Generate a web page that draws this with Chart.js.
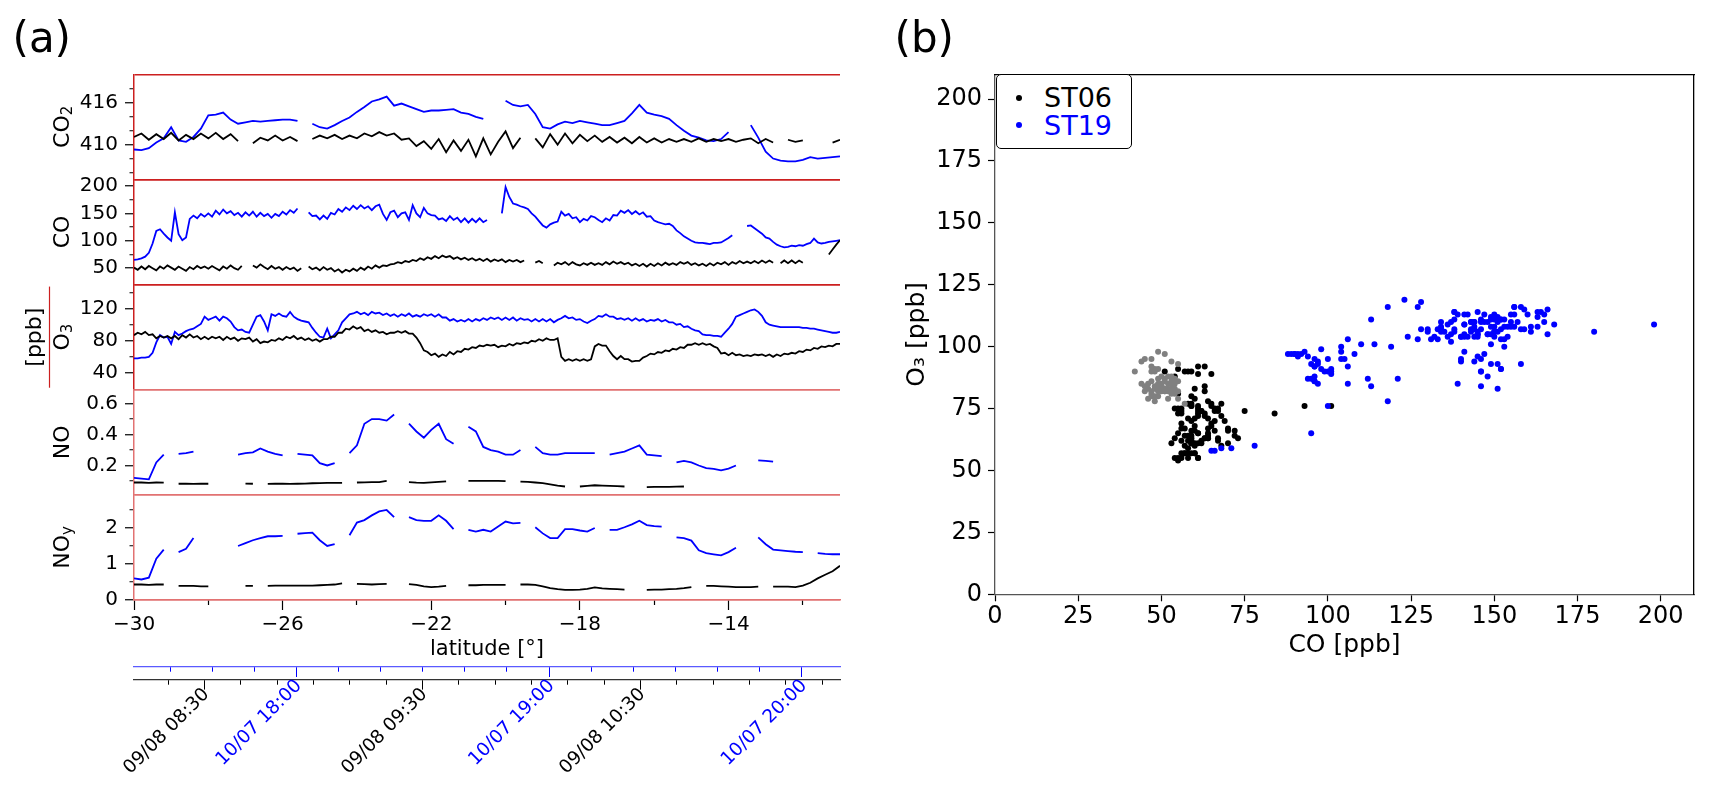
<!DOCTYPE html>
<html>
<head>
<meta charset="utf-8">
<title>ST06 / ST19 trace gases</title>
<script src="https://cdn.jsdelivr.net/npm/chart.js"></script>
<style>
  body { margin: 0; background: #fff; }
  #page { position: relative; width: 1713px; height: 785px; font-family: 'DejaVu Sans', sans-serif; color: #000; }
  #page canvas { position: absolute; top: 0; }
  .tag { position: absolute; top: 17px; font-size: 42px; line-height: 42px; }
  #legendB { position: absolute; left: 996px; top: 74px; width: 136px; height: 75px; box-sizing: border-box;
             border: 1.3px solid #000; border-radius: 5px; background: #fff; font-size: 27px; line-height: 27px; }
  #legendB .row { position: absolute; left: 0; width: 100%; height: 27px; }
  #legendB .dot { position: absolute; left: 18.7px; top: 10.5px; width: 6px; height: 6px; border-radius: 50%; }
  #legendB .txt { position: absolute; left: 47px; top: 0; white-space: nowrap; }
</style>
</head>
<body>
<div id="page">
  <canvas id="chartA" width="860" height="785" style="left:0;width:860px;height:785px"></canvas>
  <canvas id="chartB" width="853" height="785" style="left:860px;width:853px;height:785px"></canvas>
  <div class="tag" style="left:12.5px">(a)</div>
  <div class="tag" style="left:894.5px">(b)</div>
  <div id="legendB">
    <div class="row" style="top:9.2px"><span class="dot" style="background:#000"></span><span class="txt">ST06</span></div>
    <div class="row" style="top:36.5px"><span class="dot" style="background:#0000ff"></span><span class="txt" style="color:#0000ff">ST19</span></div>
  </div>
</div>
<script>
// sampling grids along the flight track (latitude, deg)
const latFine = [];   // every 0.1 deg: CO and O3
for (let i = 0; i <= 190; i++) latFine.push((-300 + i) / 10);
const latCoarse = []; // every 0.2 deg: CO2, NO, NOy
for (let i = 0; i <= 95; i++) latCoarse.push((-150 + i) / 5);

// CO2 [ppm], 0.2 deg
const co2ST19 = [409.3, 409.2, 409.5, 410.3, 410.9, 412.5, 410.6, 410.4, 411.1, 412.3,
  414.2, 414.3, 414.6, 413.6, 413.0, 413.2, 413.4, 413.3, 413.4, 413.5,
  413.6, 413.6, 413.4, null, 413.0, 412.5, 412.3, 412.8, 413.4, 413.9,
  414.7, 415.4, 416.2, 416.5, 416.9, 415.6, 415.9, 415.5, 415.1, 414.7,
  414.9, 414.9, 415.0, 415.1, 414.6, 414.4, 414.0, 413.7, null, null,
  416.3, 415.7, 415.5, 415.7, 414.4, 412.5, 412.3, 412.9, 413.3, 413.1,
  413.4, 413.2, 413.0, 412.8, 412.8, 413.1, 413.4, 414.5, 415.7, 414.6,
  414.3, 414.1, 413.7, 412.8, 412.0, 411.3, 411.0, 410.6, 410.5, 410.8,
  411.8, null, null, 412.8, 411.0, 409.0, 408.0, 407.7, 407.6, 407.6,
  407.8, 408.2, 408.0, 408.1, 408.2, 408.3];
const co2ST06 = [411.1, 411.6, 410.7, 411.5, 410.8, 411.7, 410.6, 411.4, 410.8, 411.6,
  410.9, 411.7, 410.8, 411.5, 410.5, null, 410.2, 411.0, 410.6, 411.3,
  410.6, 411.1, 410.5, null, 410.8, 411.3, 410.9, 411.4, 410.8, 411.3,
  410.9, 411.6, 411.2, 411.8, 411.3, 411.6, 410.7, 410.9, 409.8, 410.5,
  409.4, 410.8, 408.9, 410.6, 409.1, 410.7, 408.3, 410.9, 408.6, 410.4,
  411.9, 409.5, 411.0, null, 410.9, 409.6, 411.5, 410.0, 411.6, 410.2,
  411.4, 410.5, 411.3, 410.4, 411.1, 410.3, 411.0, 410.2, 411.1, 410.3,
  410.9, 410.3, 410.8, 410.4, 410.8, 410.4, 410.9, 410.4, 410.8, 410.5,
  410.8, 410.4, 410.7, 410.9, 410.2, 410.8, 410.3, null, 410.7, 410.4,
  410.6, null, 410.7, null, 410.3, 410.7];

// CO [ppb], 0.1 deg
const coST19 = [65, 66, 68, 71, 78, 95, 118, 121, 113, 106,
  100, 152, 112, 101, 106, 140, 146, 141, 149, 144,
  150, 144, 155, 148, 157, 150, 154, 147, 151, 144,
  152, 146, 153, 144, 151, 145, 149, 142, 149, 145,
  153, 148, 156, 151, 159, null, null, 152, 145, 146,
  139, 146, 140, 151, 148, 158, 153, 161, 156, 164,
  158, 165, 159, 163, 156, 163, 166, 149, 138, 152,
  155, 143, 150, 152, 138, 165, 150, 143, 160, 150,
  147, 146, 139, 141, 136, 145, 138, 142, 134, 141,
  133, 140, 134, 141, 134, 138, null, null, null, 150,
  198, 180, 168, 166, 163, 161, 158, 150, 144, 136,
  128, 124, 130, 133, 135, 153, 146, 149, 141, 143,
  134, 140, 137, 145, 143, 138, 134, 141, 137, 147,
  146, 155, 151, 156, 149, 154, 148, 152, 144, 145,
  137, 134, 132, 130, 131, 127, 119, 114, 108, 104,
  100, 97, 96, 96, 95, 94, 96, 96, 97, 101,
  105, 110, null, null, null, 127, 128, 123, 118, 113,
  106, 104, 98, 93, 90, 88, 89, 91, 90, 92,
  91, 94, 96, 104, 97, 95, 96, 98, 99, 100,
  101];
const coST06 = [51, 47, 53, 48, 54, 50, 46, 53, 49, 55,
  51, 47, 53, 49, 45, 52, 48, 54, 50, 53,
  49, 54, 50, 46, 53, 49, 55, 50, 47, 54,
  null, null, 55, 51, 57, 52, 48, 54, 49, 52,
  47, 52, 48, 51, 45, 50, null, 53, 48, 51,
  46, 52, 47, 50, 44, 48, 42, 47, 44, 49,
  45, 51, 47, 53, 49, 55, 51, 55, 54, 57,
  58, 61, 59, 63, 61, 65, 63, 68, 65, 70,
  67, 72, 68, 73, 70, 72, 67, 70, 66, 69,
  65, 68, 64, 67, 63, 67, 62, 66, 63, 66,
  61, 65, 62, 65, 61, 64, null, null, 60, 63,
  59, null, null, 55, 60, 57, 61, 56, 61, 57,
  55, 59, 56, 60, 56, 59, 56, 61, 57, 62,
  58, 61, 57, 60, 55, 58, 54, 58, 53, 58,
  54, 59, 55, 60, 56, 59, 56, 61, 58, 61,
  56, 59, 55, 58, 54, 59, 55, 60, 57, 61,
  56, 61, 58, 63, 59, 62, 59, 63, 59, 64,
  60, 64, 60, null, 59, 64, 59, 64, 59, 64,
  60, null, null, null, 66, null, null, 75, 84, 93,
  101];

// O3 [ppb], 0.1 deg
const o3ST19 = [58, 58, 59, 59, 60, 65, 78, 87, 84, 85,
  76, 91, 87, 89, 92, 94, 95, 98, 101, 110,
  106, 108, 110, 105, 110, 108, 104, 97, 93, 94,
  91, 90, 100, 110, 112, 104, 93, 113, 111, 114,
  111, 110, 116, 110, 107, 105, 104, 103, 96, 90,
  85, 84, 95, 83, 88, 93, 103, 108, 113, 114,
  116, 113, 115, 112, 116, 114, 115, 112, 114, 111,
  113, 110, 113, 111, 114, 110, 112, 110, 113, 111,
  113, 110, 113, 109, 109, 105, 107, 104, 106, 104,
  107, 104, 107, 105, 108, 106, 109, 107, 109, 106,
  109, 106, 109, 105, 108, 106, 107, 104, 107, 104,
  107, 104, 107, 103, 106, 108, 111, 108, 109, 106,
  107, 104, 102, 105, 107, 111, 110, 113, 110, 110,
  107, 108, 106, 108, 105, 108, 105, 107, 104, 106,
  105, 107, 104, 106, 103, 103, 100, 101, 97, 98,
  95, 93, 92, 88, 87, 87, 86, 86, 85, 90,
  95, 101, 110, 112, 114, 116, 118, 119, 116, 111,
  103, 100, 99, 98, 97, 97, 97, 97, 97, 97,
  96, 96, 95, 95, 94, 93, 92, 91, 90, 90,
  91];
const o3ST06 = [87, 90, 88, 91, 87, 88, 83, 86, 84, 86,
  83, 86, 82, 87, 84, 88, 84, 86, 82, 85,
  82, 85, 83, 85, 81, 85, 82, 84, 80, 83,
  82, 84, 79, 82, 77, 79, 78, 81, 80, 83,
  81, 85, 83, 86, 82, 84, 81, 83, 80, 82,
  79, 82, 82, 85, 85, 90, 90, 95, 94, 98,
  95, 97, 92, 94, 91, 93, 90, 91, 88, 90,
  90, 92, 90, 92, 89, 89, 84, 77, 68, 66,
  62, 64, 60, 63, 61, 66, 63, 67, 66, 70,
  69, 72, 71, 74, 73, 75, 74, 75, 72, 74,
  73, 76, 74, 77, 76, 78, 77, 80, 79, 82,
  80, 83, 81, 81, 83, 60, 55, 57, 55, 57,
  55, 57, 55, 57, 73, 76, 74, 74, 67, 61,
  57, 61, 57, 57, 54, 55, 55, 59, 61, 64,
  63, 66, 65, 68, 67, 70, 69, 72, 71, 75,
  75, 77, 75, 77, 75, 76, 73, 71, 64, 65,
  62, 65, 62, 63, 61, 62, 61, 63, 62, 63,
  61, 63, 60, 63, 61, 64, 63, 65, 64, 67,
  66, 69, 68, 71, 70, 73, 72, 74, 73, 76,
  76];

// NO [ppb], 0.2 deg
const noST19 = [0.12, 0.115, 0.11, 0.22, 0.27, null, 0.275, 0.28, 0.29, null,
  null, null, null, null, 0.27, 0.28, 0.285, 0.31, 0.29, 0.275,
  0.265, null, 0.275, 0.27, 0.265, 0.215, 0.2, 0.215, null, 0.28,
  0.33, 0.47, 0.5, 0.5, 0.49, 0.53, null, 0.47, 0.42, 0.38,
  0.43, 0.47, 0.37, 0.34, null, 0.45, 0.42, 0.32, 0.3, 0.29,
  0.27, 0.27, 0.3, null, 0.32, 0.28, 0.27, 0.27, 0.28, 0.28,
  0.28, 0.28, 0.28, null, 0.27, 0.28, 0.29, 0.31, 0.33, 0.27,
  0.265, 0.26, null, 0.22, 0.23, 0.22, 0.2, 0.183, 0.178, 0.168,
  0.18, 0.2, null, null, 0.233, 0.23, 0.225, null, null, null,
  null, null, null, null, null, null];
const noST06 = [0.09, 0.09, 0.088, 0.09, 0.089, null, 0.082, 0.083, 0.081, 0.082,
  0.082, null, null, null, null, 0.083, 0.082, null, 0.081, 0.082,
  0.082, 0.081, 0.082, 0.083, 0.085, 0.086, 0.087, 0.087, 0.088, null,
  0.09, 0.091, 0.092, 0.092, 0.1, null, null, 0.093, 0.089, 0.087,
  0.091, 0.094, 0.097, null, null, 0.1, 0.1, 0.1, 0.1, 0.1,
  0.099, null, 0.096, 0.094, 0.09, 0.086, 0.078, 0.07, 0.064, null,
  0.064, 0.068, 0.072, 0.07, 0.068, 0.066, 0.064, null, null, 0.06,
  0.061, 0.062, 0.062, 0.063, 0.064, null, null, null, null, null,
  null, null, null, null, null, null, null, null, null, null,
  null, null, null, null, null, null];

// NOy [ppb], 0.2 deg
const noyST19 = [0.6, 0.57, 0.62, 1.15, 1.4, null, 1.33, 1.42, 1.72, null,
  null, null, null, null, 1.5, 1.58, 1.66, 1.72, 1.77, 1.77,
  1.78, null, 1.84, 1.86, 1.87, 1.66, 1.5, 1.55, null, 1.8,
  2.15, 2.22, 2.35, 2.46, 2.5, 2.3, null, 2.3, 2.22, 2.2,
  2.2, 2.35, 2.2, 1.97, null, 1.95, 1.9, 1.95, 1.9, 2.04,
  2.18, 2.13, 2.14, null, 2.02, 1.85, 1.72, 1.72, 1.97, 1.97,
  1.93, 1.9, 2.0, null, 1.95, 1.95, 2.02, 2.1, 2.2, 2.08,
  2.05, 2.04, null, 1.74, 1.72, 1.65, 1.38, 1.3, 1.27, 1.24,
  1.33, 1.45, null, null, 1.74, 1.55, 1.4, 1.38, 1.36, 1.34,
  1.33, null, 1.3, 1.28, 1.27, 1.27];
const noyST06 = [0.43, 0.43, 0.42, 0.43, 0.43, null, 0.39, 0.39, 0.39, 0.38,
  0.38, null, null, null, null, 0.39, 0.39, null, 0.39, 0.4,
  0.4, 0.4, 0.4, 0.4, 0.4, 0.41, 0.42, 0.43, 0.46, null,
  0.45, 0.44, 0.43, 0.44, 0.45, null, null, 0.44, 0.42, 0.38,
  0.36, 0.37, 0.39, null, null, 0.41, 0.41, 0.42, 0.42, 0.42,
  0.42, null, 0.43, 0.43, 0.42, 0.38, 0.33, 0.3, 0.28, 0.28,
  0.29, 0.31, 0.35, 0.32, 0.31, 0.3, 0.29, null, null, 0.28,
  0.29, 0.29, 0.3, 0.31, 0.33, 0.36, null, 0.39, 0.39, 0.38,
  0.37, 0.36, 0.36, 0.36, 0.37, null, 0.37, 0.37, 0.37, 0.36,
  0.4, 0.48, 0.6, 0.7, 0.8, 0.95];

// axis ticks
const latTicks = [-30, -28, -26, -24, -22, -20, -18, -16, -14, -12];
const latMajor = [-30, -26, -22, -18, -14];
const co2Major = [410, 416], co2Minor = [406, 408, 412, 414, 418];
const coMajor = [50, 100, 150, 200], coMinor = [75, 125, 175];
const o3Major = [40, 80, 120], o3Minor = [60, 100, 140];
const noMajor = [0.2, 0.4, 0.6], noMinor = [0.1, 0.3, 0.5];
const noyMajor = [0, 1, 2], noyMinor = [0.5, 1.5, 2.5];
const ppbTicks = [0, 25, 50, 75, 100, 125, 150, 175, 200];

// flight time axes, minutes after 00:00 of each flight day
const st06TimeRange = [490.6, 684.9];
const st06TimeTicks = [500, 510, 520, 530, 540, 550, 560, 570, 580, 590, 600, 610, 620, 630, 640, 650, 660, 670, 680];
const st06TimeLabels = { 510: '09/08 08:30', 570: '09/08 09:30', 630: '09/08 10:30' };
const st19TimeRange = [1041.4, 1209.1];
const st19TimeTicks = [1050, 1060, 1070, 1080, 1090, 1100, 1110, 1120, 1130, 1140, 1150, 1160, 1170, 1180, 1190, 1200];
const st19TimeLabels = { 1080: '10/07 18:00', 1140: '10/07 19:00', 1200: '10/07 20:00' };

const RED = '#cc1f1f';
const PINK = '#e27272';
const BLUE = '#0000ff';
const CLEAR = 'rgba(0,0,0,0)';

Chart.defaults.font.family = "'DejaVu Sans', sans-serif";
Chart.defaults.color = '#000';

function minus(v) {
  return v < 0 ? '\u2212' + Math.abs(v) : String(v);
}

function series(lat, vals) {
  return vals.map(function (v, i) { return { x: lat[i], y: v }; });
}

function trace(label, lat, vals, color, yAxisID, order) {
  return {
    label: label, data: series(lat, vals), xAxisID: 'x', yAxisID: yAxisID,
    borderColor: color, backgroundColor: color, borderWidth: 1.8,
    pointRadius: 0, fill: false, spanGaps: false, order: order
  };
}

// one of the five stacked sub-panels of (a)
function stackedY(min, max, majors, minors, weight, topLine, bottomLine) {
  const vals = Array.from(new Set([min, max].concat(majors, minors))).sort(function (a, b) { return a - b; });
  return {
    type: 'linear', position: 'left', stack: 'panelA', stackWeight: 1, weight: weight,
    min: min, max: max,
    afterBuildTicks: function (s) { s.ticks = vals.map(function (v) { return { value: v }; }); },
    afterFit: function (s) { s.width = 134; s.paddingTop = 0; s.paddingBottom = 0; },
    ticks: {
      autoSkip: false, padding: 7, font: { size: 20 }, color: '#000',
      callback: function (v) { return majors.includes(v) ? String(v) : ''; }
    },
    grid: {
      drawOnChartArea: true, tickLength: 9, tickWidth: 1.2, lineWidth: 1.5,
      color: function (c) {
        if (!c.tick) return CLEAR;
        if (c.tick.value === max) return topLine;
        if (c.tick.value === min) return bottomLine;
        return CLEAR;
      },
      tickColor: function (c) {
        return c.tick && (majors.includes(c.tick.value) || minors.includes(c.tick.value)) ? '#000' : CLEAR;
      },
      tickBorderDash: function (c) {
        return c.tick && minors.includes(c.tick.value) ? [0, 4.5, 4.5, 30] : [];
      }
    },
    border: { color: topLine, width: 1.5 }
  };
}

// tick marks only; the slanted labels are written by timeLabels below
function timeAxis(range, ticks, labels, weight, height, color, lineColor) {
  return {
    type: 'linear', position: 'bottom', weight: weight, min: range[0], max: range[1],
    afterBuildTicks: function (s) { s.ticks = ticks.map(function (v) { return { value: v }; }); },
    afterFit: function (s) { s.height = height; s.paddingLeft = 0; s.paddingRight = 0; },
    ticks: { display: false, autoSkip: false },
    grid: {
      drawOnChartArea: false, tickLength: 10, tickWidth: 1, tickColor: color,
      tickBorderDash: function (c) { return c.tick && !labels[c.tick.value] ? [4.5, 30] : []; }
    },
    border: { color: lineColor, width: 1.2 }
  };
}

const timeLabelSets = [
  { id: 'tST06', labels: st06TimeLabels, color: '#000', dx: 2, dy: 12 },
  { id: 'tST19', labels: st19TimeLabels, color: BLUE, dx: 2.5, dy: 16 }
];

const timeLabels = {
  id: 'timeLabels',
  afterDraw: function (chart) {
    const ctx = chart.ctx;
    ctx.save();
    ctx.font = "18.5px 'DejaVu Sans'";
    ctx.textAlign = 'right';
    ctx.textBaseline = 'middle';
    timeLabelSets.forEach(function (set) {
      const s = chart.scales[set.id];
      ctx.fillStyle = set.color;
      Object.keys(set.labels).forEach(function (k) {
        ctx.save();
        ctx.translate(s.getPixelForValue(Number(k)) + set.dx, s.top + set.dy);
        ctx.rotate(-Math.PI / 4);
        ctx.fillText(set.labels[k], 0, 0);
        ctx.restore();
      });
    });
    ctx.restore();
  }
};

// rotated sub-panel titles with real subscripts
const yTitles = {
  yCO2: [['CO', 0], ['2', 1]],
  yCO: [['CO', 0]],
  yO3: [['O', 0], ['3', 1]],
  yNO: [['NO', 0]],
  yNOy: [['NO', 0], ['y', 1]]
};

function drawRotated(ctx, parts, x, y, size) {
  let total = 0;
  parts.forEach(function (p) {
    ctx.font = (p[1] ? Math.round(size * 0.68) : size) + "px 'DejaVu Sans'";
    total += ctx.measureText(p[0]).width;
  });
  ctx.save();
  ctx.translate(x, y);
  ctx.rotate(-Math.PI / 2);
  ctx.textAlign = 'left';
  ctx.textBaseline = 'middle';
  let cx = -total / 2;
  parts.forEach(function (p) {
    ctx.font = (p[1] ? Math.round(size * 0.68) : size) + "px 'DejaVu Sans'";
    ctx.fillText(p[0], cx, p[1] ? 5 : 0);
    cx += ctx.measureText(p[0]).width;
  });
  ctx.restore();
}

const panelATitles = {
  id: 'panelATitles',
  afterDraw: function (chart) {
    const ctx = chart.ctx;
    ctx.save();
    ctx.fillStyle = '#000';
    Object.keys(yTitles).forEach(function (id) {
      const s = chart.scales[id];
      drawRotated(ctx, yTitles[id], 63, (s.top + s.bottom) / 2, 22);
    });
    const o3 = chart.scales.yO3;
    drawRotated(ctx, [['[ppb]', 0]], 35, (o3.top + o3.bottom) / 2, 22);
    ctx.strokeStyle = RED;
    ctx.lineWidth = 1.2;
    ctx.beginPath();
    ctx.moveTo(49.5, o3.top + 2);
    ctx.lineTo(49.5, o3.bottom - 2);
    ctx.stroke();
    ctx.restore();
  }
};

new Chart(document.getElementById('chartA'), {
  type: 'line',
  data: {
    datasets: [
      trace('ST06 CO2', latCoarse, co2ST06, '#000', 'yCO2', 0),
      trace('ST19 CO2', latCoarse, co2ST19, BLUE, 'yCO2', 1),
      trace('ST06 CO', latFine, coST06, '#000', 'yCO', 0),
      trace('ST19 CO', latFine, coST19, BLUE, 'yCO', 1),
      trace('ST06 O3', latFine, o3ST06, '#000', 'yO3', 0),
      trace('ST19 O3', latFine, o3ST19, BLUE, 'yO3', 1),
      trace('ST06 NO', latCoarse, noST06, '#000', 'yNO', 0),
      trace('ST19 NO', latCoarse, noST19, BLUE, 'yNO', 1),
      trace('ST06 NOy', latCoarse, noyST06, '#000', 'yNOy', 0),
      trace('ST19 NOy', latCoarse, noyST19, BLUE, 'yNOy', 1)
    ]
  },
  options: {
    responsive: false, animation: false, devicePixelRatio: 1,
    layout: { padding: { top: 74.3, right: 20, bottom: 0, left: 0 } },
    plugins: { legend: { display: false }, tooltip: { enabled: false } },
    scales: {
      yCO2: stackedY(405, 420.1, co2Major, co2Minor, 5, RED, RED),
      yCO: stackedY(20, 212, coMajor, coMinor, 4, RED, RED),
      yO3: stackedY(19, 150, o3Major, o3Minor, 3, RED, PINK),
      yNO: stackedY(0.01, 0.69, noMajor, noMinor, 2, PINK, PINK),
      yNOy: stackedY(0, 2.92, noyMajor, noyMinor, 1, PINK, PINK),
      x: {
        type: 'linear', position: 'bottom', weight: 1, min: -30, max: -11,
        afterBuildTicks: function (s) { s.ticks = latTicks.map(function (v) { return { value: v }; }); },
        afterFit: function (s) { s.height = 67; s.paddingLeft = 0; s.paddingRight = 0; },
        ticks: {
          autoSkip: false, minRotation: 0, maxRotation: 0, padding: 3, font: { size: 20 }, color: '#000',
          callback: function (v) { return latMajor.includes(v) ? minus(v) : ''; }
        },
        grid: {
          drawOnChartArea: false, tickLength: 10, tickWidth: 1.2, tickColor: '#000',
          tickBorderDash: function (c) { return c.tick && !latMajor.includes(c.tick.value) ? [4.5, 30] : []; }
        },
        border: { color: PINK, width: 1.5 },
        title: { display: true, text: 'latitude [\u00b0]', font: { size: 21 }, color: '#000', padding: { top: 0, bottom: 5 } }
      },
      tST19: timeAxis(st19TimeRange, st19TimeTicks, st19TimeLabels, 2, 12.6, BLUE, '#5a5aff'),
      tST06: timeAxis(st06TimeRange, st06TimeTicks, st06TimeLabels, 3, 105.4, '#000', '#333')
    }
  },
  plugins: [panelATitles, timeLabels]
});

// (b): O3 against CO, paired along the same track samples
const graySouthOf = -23.5;
function pairs(co, o3, keep) {
  const out = [];
  for (let i = 0; i < latFine.length; i++) {
    if (co[i] == null || o3[i] == null || !keep(latFine[i])) continue;
    out.push({ x: co[i], y: o3[i] });
  }
  return out;
}
const scatterST19 = pairs(coST19, o3ST19, function () { return true; });
const scatterST06 = pairs(coST06, o3ST06, function (lat) { return lat > graySouthOf; });
const scatterST06South = pairs(coST06, o3ST06, function (lat) { return lat <= graySouthOf; });

function ppbAxis(position, size, title, titlePad) {
  const horizontal = position === 'bottom';
  return {
    type: 'linear', position: position, min: 0, max: 210,
    afterBuildTicks: function (s) { s.ticks = ppbTicks.map(function (v) { return { value: v }; }); },
    afterFit: function (s) {
      if (horizontal) { s.height = size; s.paddingLeft = 0; s.paddingRight = 0; }
      else { s.width = size; s.paddingTop = 0; s.paddingBottom = 0; }
    },
    ticks: {
      autoSkip: false, minRotation: 0, maxRotation: 0, padding: horizontal ? 1 : 6,
      font: { size: 24 }, color: '#000', callback: function (v) { return String(v); }
    },
    grid: { drawOnChartArea: false, tickLength: 7, tickWidth: 1.2, tickColor: '#000' },
    border: { color: '#555', width: 1.3 },
    title: { display: true, text: title, font: { size: 25 }, color: '#000', padding: titlePad }
  };
}

function frameAxis(position) {
  return {
    type: 'linear', position: position, display: true,
    afterFit: function (s) {
      if (position === 'top') { s.height = 0; s.paddingLeft = 0; s.paddingRight = 0; }
      else { s.width = 0; s.paddingTop = 0; s.paddingBottom = 0; }
    },
    ticks: { display: false },
    grid: { drawOnChartArea: false, drawTicks: false },
    border: { color: '#000', width: 1.3 }
  };
}

new Chart(document.getElementById('chartB'), {
  type: 'scatter',
  data: {
    datasets: [
      { label: 'ST19', data: scatterST19, backgroundColor: BLUE, pointRadius: 3, borderWidth: 0, order: 0 },
      { label: 'ST06 south', data: scatterST06South, backgroundColor: '#808080', pointRadius: 3, borderWidth: 0, order: 1 },
      { label: 'ST06', data: scatterST06, backgroundColor: '#000', pointRadius: 3, borderWidth: 0, order: 2 }
    ]
  },
  options: {
    responsive: false, animation: false, devicePixelRatio: 1,
    layout: { padding: { top: 74.3, right: 19, bottom: 0, left: 0 } },
    plugins: { legend: { display: false }, tooltip: { enabled: false } },
    scales: {
      x: ppbAxis('bottom', 190.7, 'CO [ppb]', { top: 0, bottom: 125 }),
      y: ppbAxis('left', 135, 'O\u2083 [ppb]', { top: 42, bottom: 0 }),
      xTop: frameAxis('top'),
      yRight: frameAxis('right')
    }
  }
});
</script>
</body>
</html>
